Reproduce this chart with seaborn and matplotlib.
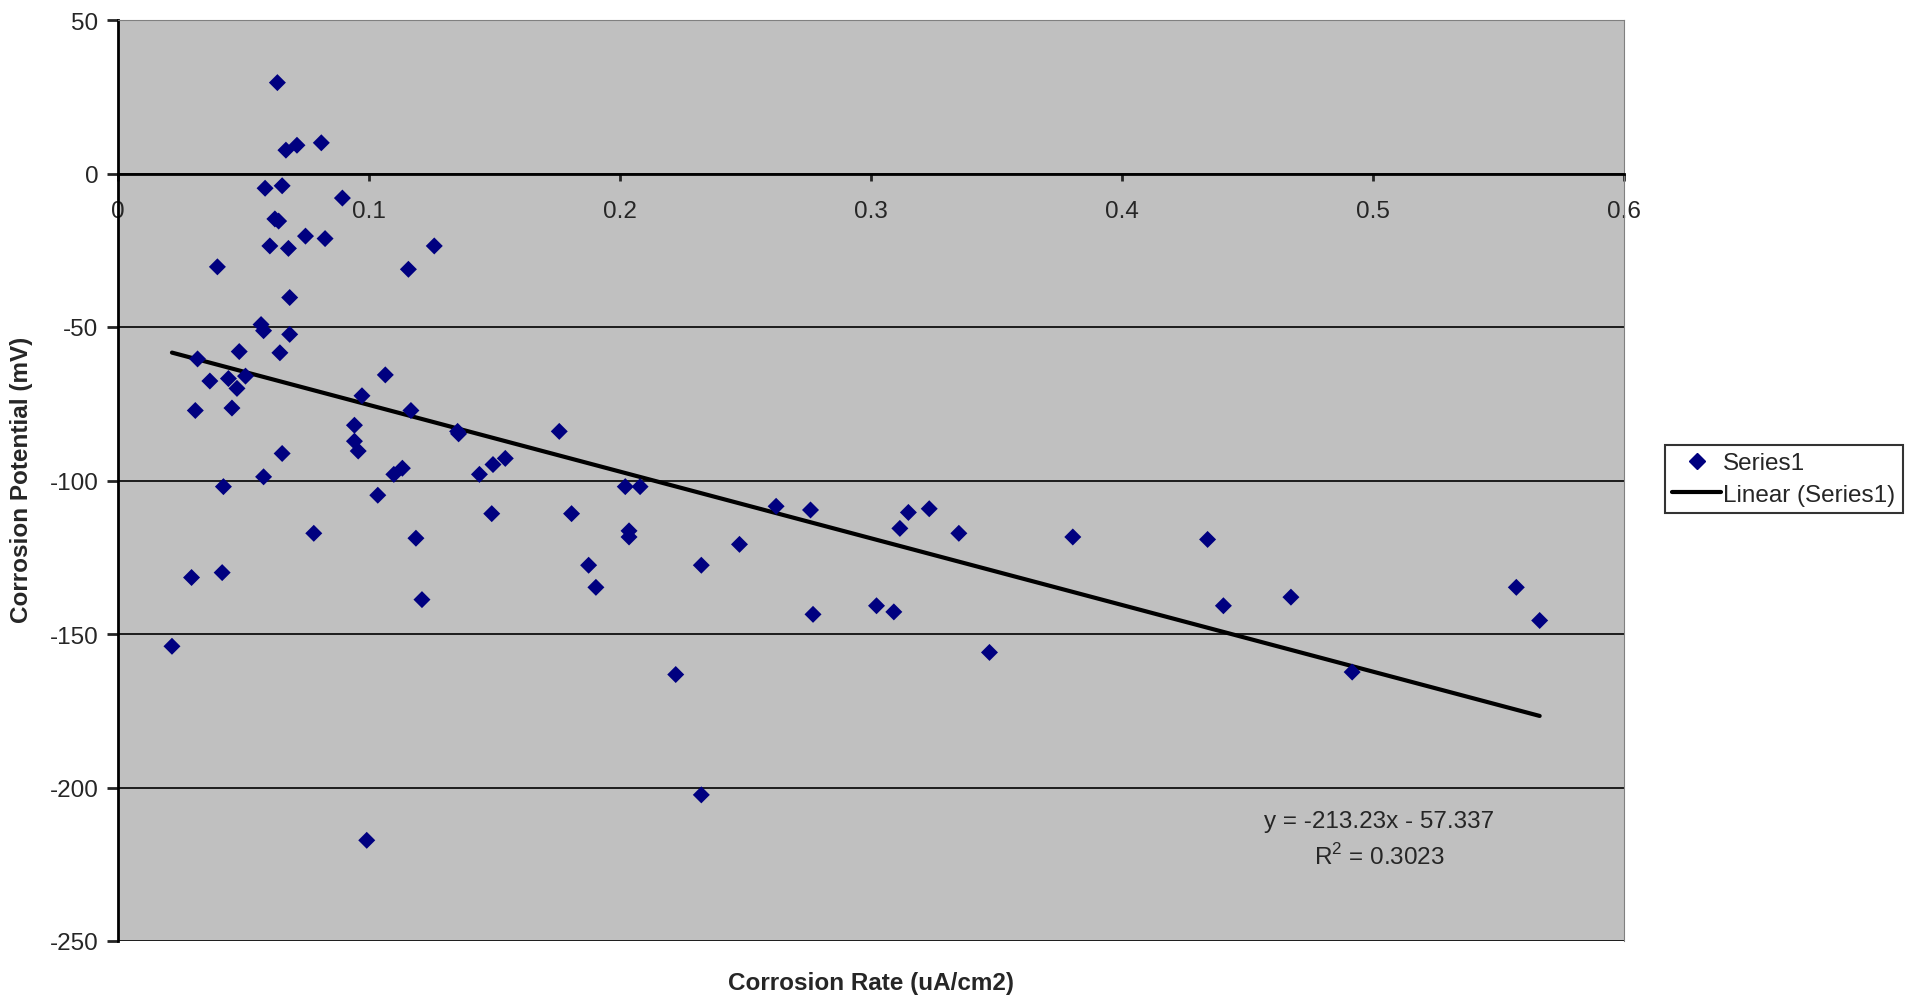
import numpy as np
import pandas as pd
import matplotlib
matplotlib.use("Agg")
import matplotlib.pyplot as plt
from matplotlib.lines import Line2D
import seaborn as sns

# values
corrosion_rate = [0.0215, 0.0293, 0.0317, 0.0308, 0.0366, 0.0396, 0.0420, 0.0415, 0.0440, 0.0454,
                  0.0474, 0.0483, 0.0508, 0.0570, 0.0580, 0.0586, 0.0580, 0.0605, 0.0625, 0.0640,
                  0.0635, 0.0645, 0.0654, 0.0654, 0.0669, 0.0679, 0.0684, 0.0684, 0.0713, 0.0747,
                  0.0780, 0.0810, 0.0825, 0.0894, 0.0942, 0.0942, 0.0957, 0.0972, 0.0991, 0.1035,
                  0.1065, 0.1099, 0.1133, 0.1157, 0.1167, 0.1187, 0.1211, 0.1260, 0.1353, 0.1357,
                  0.1440, 0.1489, 0.1494, 0.1543, 0.1758, 0.1807, 0.1875, 0.1904, 0.2021, 0.2036,
                  0.2036, 0.2080, 0.2222, 0.2324, 0.2324, 0.2476, 0.2622, 0.2759, 0.2769, 0.3022,
                  0.3091, 0.3115, 0.3149, 0.3232, 0.3350, 0.3472, 0.3804, 0.4341, 0.4404, 0.4673,
                  0.4917, 0.5571, 0.5664]
corrosion_potential = [-154.0, -131.6, -60.4, -77.2, -67.6, -30.4, -102.0, -130.0, -66.8, -76.4,
                       -70.0, -58.0, -66.0, -49.2, -51.2, -4.8, -98.8, -23.6, -14.8, -15.5,
                       29.6, -58.4, -91.2, -4.0, 7.6, -24.4, -40.4, -52.4, 9.2, -20.4,
                       -117.2, 10.0, -21.2, -8.0, -82.0, -87.2, -90.4, -72.4, -217.2, -104.8,
                       -65.6, -98.0, -96.0, -31.2, -77.2, -118.8, -138.8, -23.6, -84.0, -84.8,
                       -98.0, -110.8, -94.8, -92.8, -84.0, -110.8, -127.6, -134.8, -102.0, -116.4,
                       -118.4, -102.0, -163.2, -127.6, -202.4, -120.8, -108.4, -109.6, -143.6, -140.8,
                       -142.8, -115.6, -110.4, -109.2, -117.2, -156.0, -118.4, -119.2, -140.8, -138.0,
                       -162.4, -134.8, -145.6]
x_ticks = [0, 0.1, 0.2, 0.3, 0.4, 0.5, 0.6]
x_tick_labels = ["0", "0.1", "0.2", "0.3", "0.4", "0.5", "0.6"]
y_ticks = [-250, -200, -150, -100, -50, 0, 50]
trend_text = "y = -213.23x - 57.337\nR$^2$ = 0.3023"

df = pd.DataFrame({"rate": corrosion_rate, "potential": corrosion_potential})

sns.set_style("white")
plt.rcParams["font.family"] = ["Liberation Sans", "DejaVu Sans"]
plt.rcParams["axes.unicode_minus"] = False
plt.rcParams["mathtext.fontset"] = "custom"
plt.rcParams["mathtext.rm"] = "Liberation Sans"

fig = plt.figure(figsize=(19.23, 10.03), dpi=100)
ax = fig.add_axes([118 / 1923, 1 - 942 / 1003, (1624 - 118) / 1923, (942 - 21) / 1003])
ax.set_facecolor("#C0C0C0")

sns.scatterplot(data=df, x="rate", y="potential", marker="D", color="#000080",
                s=75, edgecolor="none", ax=ax, zorder=3)
sns.regplot(data=df, x="rate", y="potential", scatter=False, ci=None, ax=ax,
            line_kws={"color": "black", "lw": 3})

ax.set_xlim(0, 0.6)
ax.set_ylim(-250, 50)
ax.set_yticks(y_ticks)
ax.set_xticks(x_ticks)
ax.set_xticklabels(x_tick_labels)

# horizontal gridlines
for yv in y_ticks:
    ax.axhline(yv, color="black", lw=1.2, zorder=1)

# x axis crosses at y = 0
ax.spines["bottom"].set_position(("data", 0))
ax.spines["bottom"].set_color("black")
ax.spines["bottom"].set_linewidth(2)
ax.spines["left"].set_color("black")
ax.spines["left"].set_linewidth(2)
ax.spines["right"].set_color("#808080")
ax.spines["top"].set_color("#808080")
ax.tick_params(axis="y", direction="out", length=8, width=2, labelsize=17.5, pad=6, left=True)
ax.tick_params(axis="x", direction="out", length=5, width=2, labelsize=17.5, pad=14, bottom=True)

ax.set_xlabel("")
ax.set_ylabel("")
fig.text(22 / 1923, 1 - 480 / 1003, "Corrosion Potential (mV)", rotation=90,
         ha="center", va="center", fontsize=17.5, fontweight="bold")
fig.text(871 / 1923, 1 - 984 / 1003, "Corrosion Rate (uA/cm2)",
         ha="center", va="center", fontsize=17.5, fontweight="bold")

ax.text(0.5024, -217, trend_text, ha="center", va="center", fontsize=17.5,
        linespacing=1.55, zorder=4)

handles = [
    Line2D([], [], marker="D", color="#000080", linestyle="none", markersize=8),
    Line2D([], [], color="black", lw=3),
]
leg = ax.legend(handles, ["Series1", "Linear (Series1)"], loc="center left",
                bbox_to_anchor=(1665 / 1923, 1 - 480 / 1003),
                bbox_transform=fig.transFigure, fontsize=17.5, frameon=True,
                fancybox=False, edgecolor="black", handlelength=2.0,
                handletextpad=0.1, borderpad=0.3, labelspacing=0.4,
                borderaxespad=0)
leg.get_frame().set_linewidth(1.5)

fig.savefig("out.png", dpi=100)
